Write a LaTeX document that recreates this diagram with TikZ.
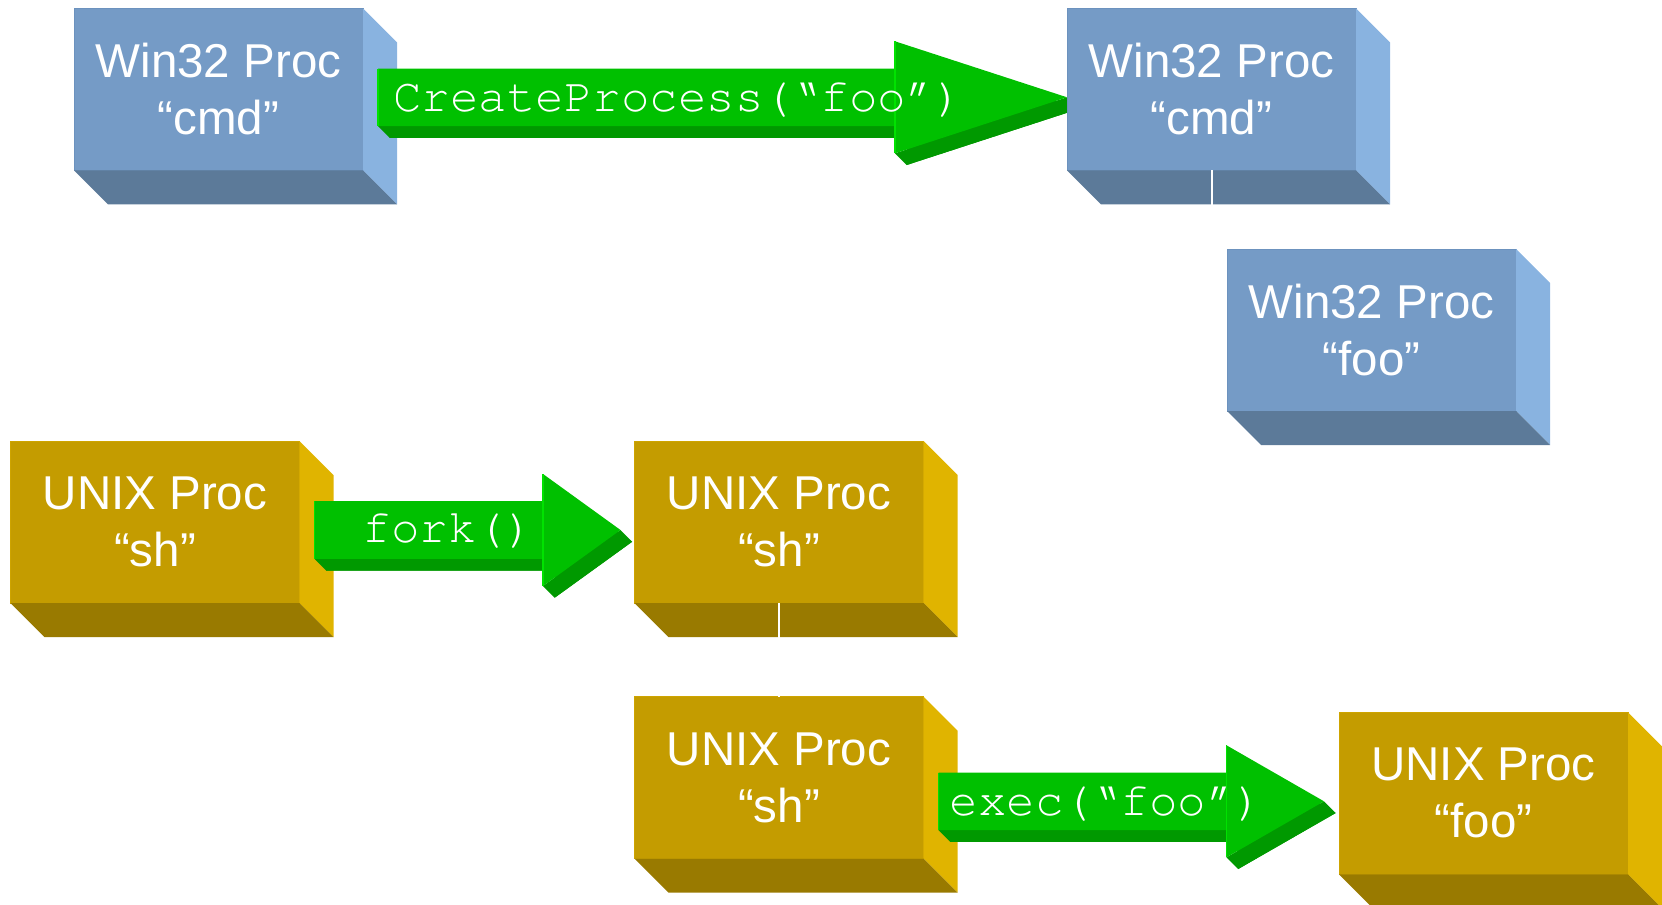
\documentclass[tikz,border=0pt]{standalone}
\usepackage{fontspec}
\setmainfont{Liberation Sans}
\newfontfamily\codefont{texgyrecursor-regular.otf}
\usetikzlibrary{calc}

\definecolor{winfront}{RGB}{117,155,198}
\definecolor{winside}{RGB}{137,179,224}
\definecolor{winbottom}{RGB}{92,122,153}
\definecolor{winedge}{RGB}{108,146,190}
\definecolor{unixfront}{RGB}{196,156,0}
\definecolor{unixside}{RGB}{224,180,0}
\definecolor{unixbottom}{RGB}{153,122,0}
\definecolor{unixedge}{RGB}{206,164,0}
\definecolor{arrowgreen}{RGB}{0,192,0}
\definecolor{arrowshade}{RGB}{0,153,0}
\definecolor{arrowlight}{RGB}{0,226,0}

\pgfdeclarelayer{upper}
\pgfsetlayers{main,upper}

\tikzset{
  procface/.style={rectangle, inner sep=0pt, outer sep=0pt,
    minimum width=144.5pt, minimum height=81pt, text=white, align=center,
    line width=0.5pt, font=\fontsize{23.75}{28.5}\selectfont},
  codelabel/.style={anchor=base, inner sep=0pt, text=white,
    font=\codefont\fontsize{23.75}{28}\selectfont},
  link/.style={draw=white, line width=1pt},
}

% a process drawn as a block: front face with its label, side and bottom faces
\newcommand\procbox[5]{%
  \node[procface, fill=#3front, draw=#3edge, anchor=north west] (#1) at (#2) {#4\\#5};
  \fill[#3side] (#1.north east) -- ($(#1.north east)+(34,34)$)
    -- ($(#1.south east)+(34,34)$) -- (#1.south east) -- cycle;
  \fill[#3bottom] (#1.south west) -- (#1.south east)
    -- ($(#1.south east)+(34,34)$) -- ($(#1.south west)+(34,34)$) -- cycle;
}

% a raised block arrow from a tail coordinate to a tip coordinate
\newcommand\blockarrow[3]{%
  \path let \p1=(#1), \p2=(#2) in
    coordinate (#1A) at ({\x1},{\y2+14.4pt})
    coordinate (#1B) at ({\x2-#3},{\y2+14.4pt})
    coordinate (#1C) at ({\x2-#3},{\y2+28pt})
    coordinate (#1D) at ({\x2},{\y2})
    coordinate (#1E) at ({\x2-#3},{\y2-28pt})
    coordinate (#1F) at ({\x2-#3},{\y2-14.4pt})
    coordinate (#1G) at ({\x1},{\y2-14.4pt});
  \fill[arrowshade] ($(#1A)+(11.7,11.7)$) -- ($(#1B)+(11.7,11.7)$)
    -- ($(#1C)+(11.7,11.7)$) -- ($(#1D)+(11.7,11.7)$) -- ($(#1E)+(11.7,11.7)$)
    -- ($(#1F)+(11.7,11.7)$) -- ($(#1G)+(11.7,11.7)$) -- cycle;
  \fill[arrowshade] (#1G) -- ($(#1G)+(11.7,11.7)$) -- ($(#1F)+(11.7,11.7)$) -- (#1F) -- cycle;
  \fill[arrowshade] (#1E) -- ($(#1E)+(11.7,11.7)$) -- ($(#1D)+(11.7,11.7)$) -- (#1D) -- cycle;
  \fill[arrowgreen] (#1A) -- (#1B) -- (#1C) -- (#1D) -- (#1E) -- (#1F) -- (#1G) -- cycle;
  \draw[arrowlight, line width=0.6pt] (#1G) -- (#1A) (#1E) -- (#1C);
}

\begin{document}
\begin{tikzpicture}[x=0.5pt, y=-0.5pt]
  \useasboundingbox (0,0) rectangle (1662,905);
  \clip (0,0) rectangle (1662,905);

  % calling processes
  \procbox{b1}{74,8.3}{win}{Win32 Proc}{“cmd”}
  \procbox{b4}{10.5,441}{unix}{UNIX Proc}{“sh”}
  \procbox{b6}{634.5,696.5}{unix}{UNIX Proc}{“sh”}

  % resulting processes
  \begin{pgfonlayer}{upper}
    \procbox{b2}{1067,8.3}{win}{Win32 Proc}{“cmd”}
    \procbox{b3}{1227,249}{win}{Win32 Proc}{“foo”}
    \procbox{b5}{634.5,441}{unix}{UNIX Proc}{“sh”}
    \procbox{b7}{1339,712.3}{unix}{UNIX Proc}{“foo”}

    \draw[link] (b2.south) -- ++(0,40) -| (b3.north);
    \draw[link] (b5.south) -- (b6.north);
  \end{pgfonlayer}

  % system calls
  \coordinate (t1) at ($(b1.east)+(15,8)$);
  \coordinate (h1) at ($(b2.west)+(0,8)$);
  \blockarrow{t1}{h1}{86pt}
  \node[codelabel] (l1) at (678,111.5) {CreateProcess(“foo”)};

  \coordinate (t2) at ($(b4.east)+(15,8)$);
  \coordinate (h2) at ($(b5.west)+(-14,8)$);
  \blockarrow{t2}{h2}{38.75pt}
  \node[codelabel] (l2) at (448,542.7) {fork()};

  \coordinate (t3) at ($(b6.east)+(15,24)$);
  \coordinate (h3) at ($(b7.west)+(-15,8)$);
  \blockarrow{t3}{h3}{48.75pt}
  \node[codelabel] (l3) at (1106.5,815) {exec(“foo”)};
\end{tikzpicture}
\end{document}
